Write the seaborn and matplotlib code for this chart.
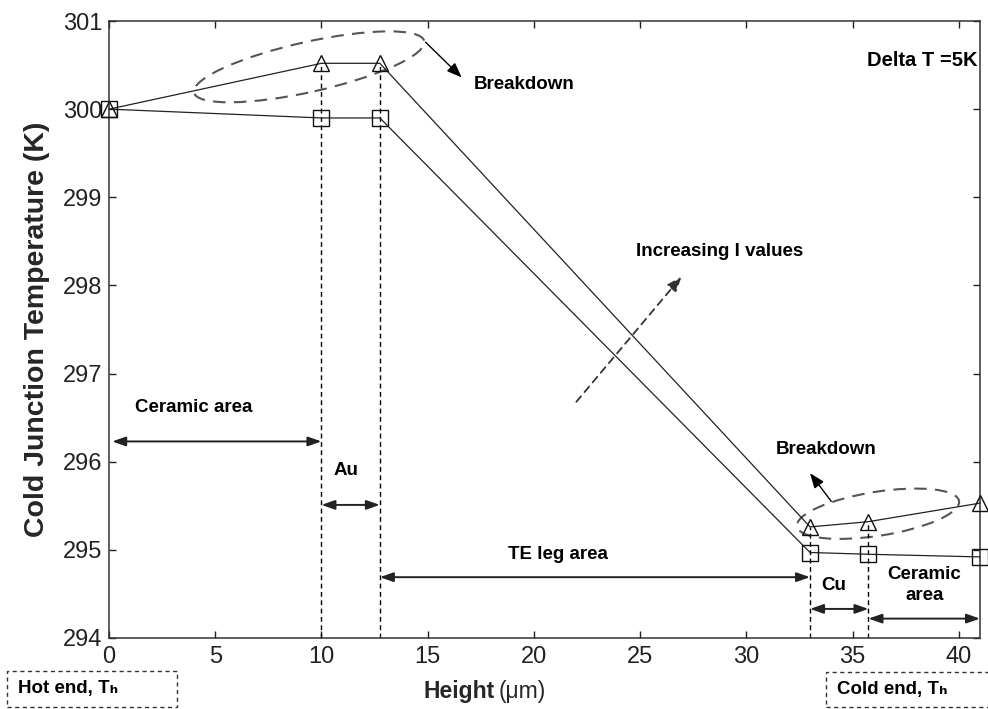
import numpy as np
import pandas as pd
import matplotlib
matplotlib.use("Agg")
import matplotlib.pyplot as plt
import matplotlib.transforms as mtransforms
from matplotlib.patches import Ellipse, Rectangle
import seaborn as sns

# ---- data ----
height_um = [0, 10, 12.75, 33, 35.75, 41]
temp_high_I = [300.0, 300.52, 300.52, 295.26, 295.32, 295.53]
temp_low_I = [300.0, 299.90, 299.90, 294.97, 294.95, 294.92]
boundaries = [10, 12.75, 33, 35.75]
boundary_tops = [300.52, 300.52, 295.26, 295.32]
x_ticks = [0, 5, 10, 15, 20, 25, 30, 35, 40]
y_ticks = [294, 295, 296, 297, 298, 299, 300, 301]

sns.set_style("ticks")
plt.rcParams["font.family"] = ["Liberation Sans", "DejaVu Sans"]
plt.rcParams["xtick.direction"] = "in"
plt.rcParams["ytick.direction"] = "in"

fig = plt.figure(figsize=(9.88, 7.09), dpi=100)
ax = fig.add_axes([109 / 988, 71 / 709, 871 / 988, 617 / 709])

df_hi = pd.DataFrame({"x": height_um, "y": temp_high_I})
df_lo = pd.DataFrame({"x": height_um, "y": temp_low_I})
sns.lineplot(data=df_hi, x="x", y="y", ax=ax, color="#222222", lw=0.9,
             marker="^", markersize=12, markerfacecolor="none",
             markeredgecolor="#111111", markeredgewidth=1.0, clip_on=False, zorder=3)
sns.lineplot(data=df_lo, x="x", y="y", ax=ax, color="#222222", lw=0.9,
             marker="s", markersize=11.5, markerfacecolor="none",
             markeredgecolor="#111111", markeredgewidth=1.0, clip_on=False, zorder=3)

ax.vlines(boundaries, 294, boundary_tops, colors="black", linestyles=(0, (3.5, 2.5)), lw=1.0, zorder=2)

ax.set_xlim(0, 41)
ax.set_ylim(294, 301)
ax.set_xticks(x_ticks)
ax.set_yticks(y_ticks)
ax.tick_params(axis="both", which="both", top=True, right=True, length=5,
               width=1, labelsize=17, pad=5, colors="#222222")
ax.tick_params(axis="x", pad=6)
for s in ax.spines.values():
    s.set_linewidth(1.1)
    s.set_color("#333333")
    s.set_visible(True)

ax.set_xlabel("")
ax.set_ylabel("Cold Junction Temperature (K)", fontsize=20.5, fontweight="bold", labelpad=9)

# x label: bold "Height" + regular "(μm)"
ax.text(0.443, -0.0875, "Height", transform=ax.transAxes, ha="right", va="center",
        fontsize=16.5, fontweight="bold")
ax.text(0.447, -0.0875, "(μm)", transform=ax.transAxes, ha="left", va="center",
        fontsize=16.5)

# dashed ellipses (sized in inches, centred in data coords)
def ellipse(xc, yc, w, h, ang):
    tr = fig.dpi_scale_trans + mtransforms.ScaledTranslation(xc, yc, ax.transData)
    e = Ellipse((0, 0), w, h, angle=ang, transform=tr, fill=False,
                edgecolor="#555555", lw=1.5, linestyle=(0, (6, 4)), clip_on=False)
    ax.add_patch(e)

ellipse(9.42, 300.48, 2.36, 0.50, 12.6)
ellipse(36.2, 295.41, 1.64, 0.44, 8.9)

bold = dict(fontsize=13.5, fontweight="bold", color="black")
head = "-|>,head_length=0.9,head_width=0.35"

# single arrows
ax.annotate("", xy=(16.6, 300.36), xytext=(14.9, 300.76),
            arrowprops=dict(arrowstyle=head, color="black", lw=1.0, shrinkA=0, shrinkB=0))
ax.annotate("", xy=(33.0, 295.87), xytext=(34.0, 295.55),
            arrowprops=dict(arrowstyle=head, color="black", lw=1.0, shrinkA=0, shrinkB=0))
ax.annotate("", xy=(26.95, 298.10), xytext=(22.0, 296.68),
            arrowprops=dict(arrowstyle=head, color="#333333",
                            lw=1.3, linestyle=(0, (4, 3)), shrinkA=0, shrinkB=0))

# double arrows
def darrow(x0, x1, y):
    ax.annotate("", xy=(x1, y), xytext=(x0, y),
                arrowprops=dict(arrowstyle="<|-|>,head_length=0.8,head_width=0.28",
                                color="#222222", lw=1.4, shrinkA=0, shrinkB=0))

darrow(0.15, 10, 296.23)
darrow(10, 12.75, 295.51)
darrow(12.75, 33, 294.69)
darrow(33, 35.75, 294.33)
darrow(35.75, 41, 294.22)

ax.text(1.22, 296.61, "Ceramic area", ha="left", va="center", **bold)
ax.text(10.55, 295.90, "Au", ha="left", va="center", **bold)
ax.text(18.8, 294.95, "TE leg area", ha="left", va="center", **bold)
ax.text(33.52, 294.60, "Cu", ha="left", va="center", **bold)
ax.text(38.38, 294.60, "Ceramic\narea", ha="center", va="center", linespacing=1.25, **bold)
ax.text(17.16, 300.28, "Breakdown", ha="left", va="center", **bold)
ax.text(31.4, 296.14, "Breakdown", ha="left", va="center", **bold)
ax.text(24.8, 298.38, "Increasing I values", ha="left", va="center", **bold)
ax.text(40.88, 300.55, "Delta T =5K", ha="right", va="center", fontsize=14.5,
        fontweight="bold", color="black")

# dashed boxes at the bottom
def fbox(x0, y0, x1, y1, label, tx):
    r = Rectangle((x0 / 988, 1 - y1 / 709), (x1 - x0) / 988, (y1 - y0) / 709,
                  transform=fig.transFigure, fill=False, edgecolor="#333333",
                  lw=1.0, linestyle=(0, (3, 2.5)))
    fig.patches.append(r)
    fig.text(tx / 988, 1 - ((y0 + y1) / 2) / 709, label, ha="left", va="center",
             fontsize=13.5, fontweight="bold", color="black",
             family=["Liberation Sans", "DejaVu Sans"])

fbox(7, 671, 177, 707, "Hot end, Tₕ", 18)
fbox(826, 672, 1000, 707, "Cold end, Tₕ", 837)

fig.savefig("out.png", dpi=100)
